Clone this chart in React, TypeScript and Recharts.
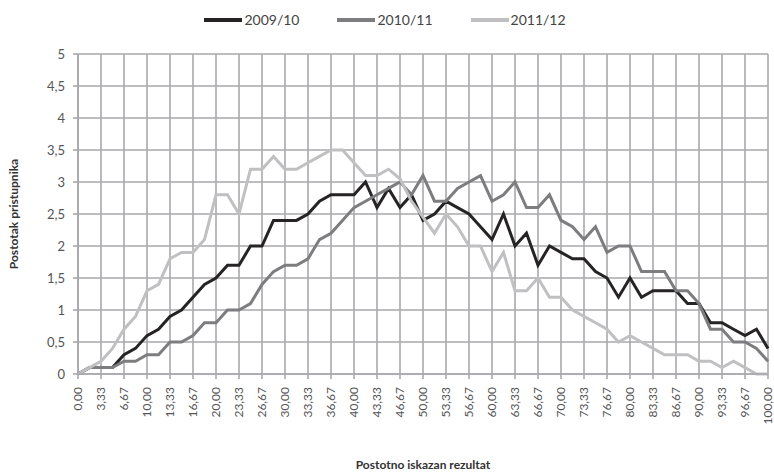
import { CartesianGrid, Line, LineChart, XAxis, YAxis } from "recharts";

const scores = [
  "0,00", "1,67", "3,33", "5,00", "6,67", "8,33", "10,00", "11,67", "13,33", "15,00",
  "16,67", "18,33", "20,00", "21,67", "23,33", "25,00", "26,67", "28,33", "30,00", "31,67",
  "33,33", "35,00", "36,67", "38,33", "40,00", "41,67", "43,33", "45,00", "46,67", "48,33",
  "50,00", "51,67", "53,33", "55,00", "56,67", "58,33", "60,00", "61,67", "63,33", "65,00",
  "66,67", "68,33", "70,00", "71,67", "73,33", "75,00", "76,67", "78,33", "80,00", "81,67",
  "83,33", "85,00", "86,67", "88,33", "90,00", "91,67", "93,33", "95,00", "96,67", "98,33",
  "100,00",
];

// labelled ticks (every second score)
const xTicks = [
  "0,00", "3,33", "6,67", "10,00", "13,33", "16,67", "20,00", "23,33", "26,67", "30,00",
  "33,33", "36,67", "40,00", "43,33", "46,67", "50,00", "53,33", "56,67", "60,00", "63,33",
  "66,67", "70,00", "73,33", "76,67", "80,00", "83,33", "86,67", "90,00", "93,33", "96,67",
  "100,00",
];

const yTicks = [0, 0.5, 1, 1.5, 2, 2.5, 3, 3.5, 4, 4.5, 5];

const y2009 = [
  0, 0.1, 0.1, 0.1, 0.3, 0.4, 0.6, 0.7, 0.9, 1.0,
  1.2, 1.4, 1.5, 1.7, 1.7, 2.0, 2.0, 2.4, 2.4, 2.4,
  2.5, 2.7, 2.8, 2.8, 2.8, 3.0, 2.6, 2.9, 2.6, 2.8,
  2.4, 2.5, 2.7, 2.6, 2.5, 2.3, 2.1, 2.5, 2.0, 2.2,
  1.7, 2.0, 1.9, 1.8, 1.8, 1.6, 1.5, 1.2, 1.5, 1.2,
  1.3, 1.3, 1.3, 1.1, 1.1, 0.8, 0.8, 0.7, 0.6, 0.7,
  0.4,
];

const y2010 = [
  0, 0.1, 0.1, 0.1, 0.2, 0.2, 0.3, 0.3, 0.5, 0.5,
  0.6, 0.8, 0.8, 1.0, 1.0, 1.1, 1.4, 1.6, 1.7, 1.7,
  1.8, 2.1, 2.2, 2.4, 2.6, 2.7, 2.8, 2.9, 3.0, 2.8,
  3.1, 2.7, 2.7, 2.9, 3.0, 3.1, 2.7, 2.8, 3.0, 2.6,
  2.6, 2.8, 2.4, 2.3, 2.1, 2.3, 1.9, 2.0, 2.0, 1.6,
  1.6, 1.6, 1.3, 1.3, 1.1, 0.7, 0.7, 0.5, 0.5, 0.4,
  0.2,
];

const y2011 = [
  0, 0.1, 0.2, 0.4, 0.7, 0.9, 1.3, 1.4, 1.8, 1.9,
  1.9, 2.1, 2.8, 2.8, 2.5, 3.2, 3.2, 3.4, 3.2, 3.2,
  3.3, 3.4, 3.5, 3.5, 3.3, 3.1, 3.1, 3.2, 3.05, 2.7,
  2.45, 2.2, 2.5, 2.3, 2.0, 2.0, 1.6, 1.9, 1.3, 1.3,
  1.5, 1.2, 1.2, 1.0, 0.9, 0.8, 0.7, 0.5, 0.6, 0.5,
  0.4, 0.3, 0.3, 0.3, 0.2, 0.2, 0.1, 0.2, 0.1, 0.0,
  0.0,
];

const series = [
  { key: "s2009", name: "2009/10", color: "#262324", values: y2009 },
  { key: "s2010", name: "2010/11", color: "#7d7d80", values: y2010 },
  { key: "s2011", name: "2011/12", color: "#c0c0c2", values: y2011 },
];

const data = scores.map((score, i) => {
  const row: Record<string, string | number> = { score };
  series.forEach((s) => {
    row[s.key] = s.values[i];
  });
  return row;
});

const FONT = "Lato, 'Open Sans', sans-serif";
const GRID = "#a9a9ad";

function XTick({ x, y, payload }: any) {
  return (
    <text
      x={x}
      y={y}
      transform={`rotate(-90 ${x} ${y})`}
      textAnchor="end"
      dy="0.35em"
      fontSize={12}
      fontFamily={FONT}
      fill="#555"
    >
      {payload.value}
    </text>
  );
}

export default function App() {
  return (
    <div style={{ position: "absolute", left: 0, top: 0, width: 774, height: 474, background: "#fff" }}>
      <div
        style={{
          position: "absolute",
          top: 11,
          left: 0,
          width: 774,
          display: "flex",
          justifyContent: "center",
          paddingRight: 4,
          boxSizing: "border-box",
          fontFamily: FONT,
          fontSize: 14,
          color: "#444",
        }}
      >
        {series.map((s) => (
          <div key={s.key} style={{ display: "flex", alignItems: "center", margin: "0 19px" }}>
            <span style={{ display: "inline-block", width: 38, height: 4, background: s.color, marginRight: 2 }} />
            <span>{s.name}</span>
          </div>
        ))}
      </div>
      <LineChart width={774} height={474} data={data} margin={{ top: 54, right: 6, bottom: 0, left: 0 }}>
        <CartesianGrid stroke={GRID} strokeWidth={1.6} />
        <XAxis
          dataKey="score"
          type="category"
          ticks={xTicks}
          interval={0}
          height={100}
          tickSize={5}
          tickMargin={8}
          tick={<XTick />}
          axisLine={{ stroke: GRID, strokeWidth: 1.6 }}
          tickLine={{ stroke: GRID, strokeWidth: 1.6 }}
          label={{
            value: "Postotno iskazan rezultat",
            position: "insideBottom",
            offset: 5,
            style: { fontFamily: FONT, fontSize: 12, fontWeight: 700, fill: "#333" },
          }}
        />
        <YAxis
          type="number"
          domain={[0, 5]}
          ticks={yTicks}
          width={78}
          tickSize={5}
          tickMargin={8}
          tickFormatter={(v: number) => String(v).replace(".", ",")}
          tick={{ fontFamily: FONT, fontSize: 13, fill: "#555" }}
          axisLine={{ stroke: GRID, strokeWidth: 1.6 }}
          tickLine={{ stroke: GRID, strokeWidth: 1.6 }}
          label={{
            value: "Postotak pristupnika",
            angle: -90,
            position: "insideLeft",
            offset: 14,
            style: { textAnchor: "middle", fontFamily: FONT, fontSize: 12, fontWeight: 700, fill: "#333" },
          }}
        />
        {series.map((s) => (
          <Line
            key={s.key}
            dataKey={s.key}
            name={s.name}
            stroke={s.color}
            strokeWidth={3}
            dot={false}
            activeDot={false}
            isAnimationActive={false}
          />
        ))}
      </LineChart>
    </div>
  );
}
